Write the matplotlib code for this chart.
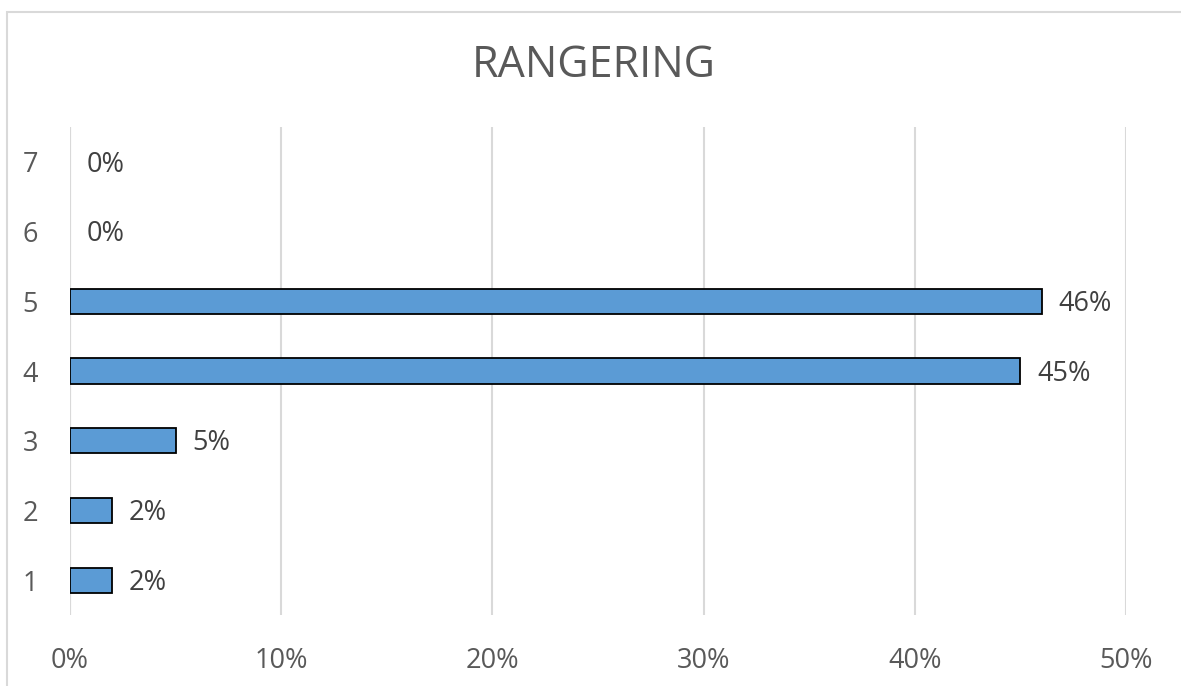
import matplotlib
matplotlib.use("Agg")
import matplotlib.pyplot as plt
from matplotlib.patches import Rectangle
from matplotlib.ticker import FuncFormatter

plt.rcParams['font.family'] = ['Open Sans', 'DejaVu Sans']

kategorier = ['1', '2', '3', '4', '5', '6', '7']
andel = [2, 2, 5, 45, 46, 0, 0]
x_ticks = [0, 10, 20, 30, 40, 50]

fig = plt.figure(figsize=(11.81, 6.86), dpi=100)
ax = fig.add_axes([70 / 1181, 71 / 686, 1056 / 1181, 488 / 686])

# light grey chart border
fig.patches.append(Rectangle((7 / 1181, -0.1), 1.2, (686 - 12) / 686 + 0.1,
                             transform=fig.transFigure, fill=False,
                             edgecolor='#D9D9D9', linewidth=1.5))

pos = range(len(kategorier))
kanter = ['black' if v > 0 else 'none' for v in andel]
ax.barh(pos, andel, height=0.36, color='#5B9BD5', edgecolor=kanter,
        linewidth=1.3, zorder=3)

for p, v in zip(pos, andel):
    ax.annotate(f'{v}%', (v, p), xytext=(12, -2), textcoords='offset points',
                va='center', ha='left', fontsize=19.5, color='#404040')

ax.set_xlim(0, 50)
ax.set_ylim(-0.5, len(kategorier) - 0.5)
ax.set_xticks(x_ticks)
ax.xaxis.set_major_formatter(FuncFormatter(lambda v, _: f'{v:.0f}%'))
ax.set_yticks(list(pos))
ax.set_yticklabels(kategorier)
ax.tick_params(axis='both', length=0, labelsize=19.5, labelcolor='#595959')
ax.tick_params(axis='x', pad=23)
ax.tick_params(axis='y', pad=23)

ax.grid(axis='x', color='#D9D9D9', linewidth=1.5, zorder=0)
ax.axvline(0, color='#D9D9D9', linewidth=1.5, zorder=1)
for s in ax.spines.values():
    s.set_visible(False)

fig.text(594 / 1181, 1 - 66 / 686, 'RANGERING', ha='center', va='center',
         fontsize=31, color='#595959')

fig.savefig('out.png', dpi=100)
